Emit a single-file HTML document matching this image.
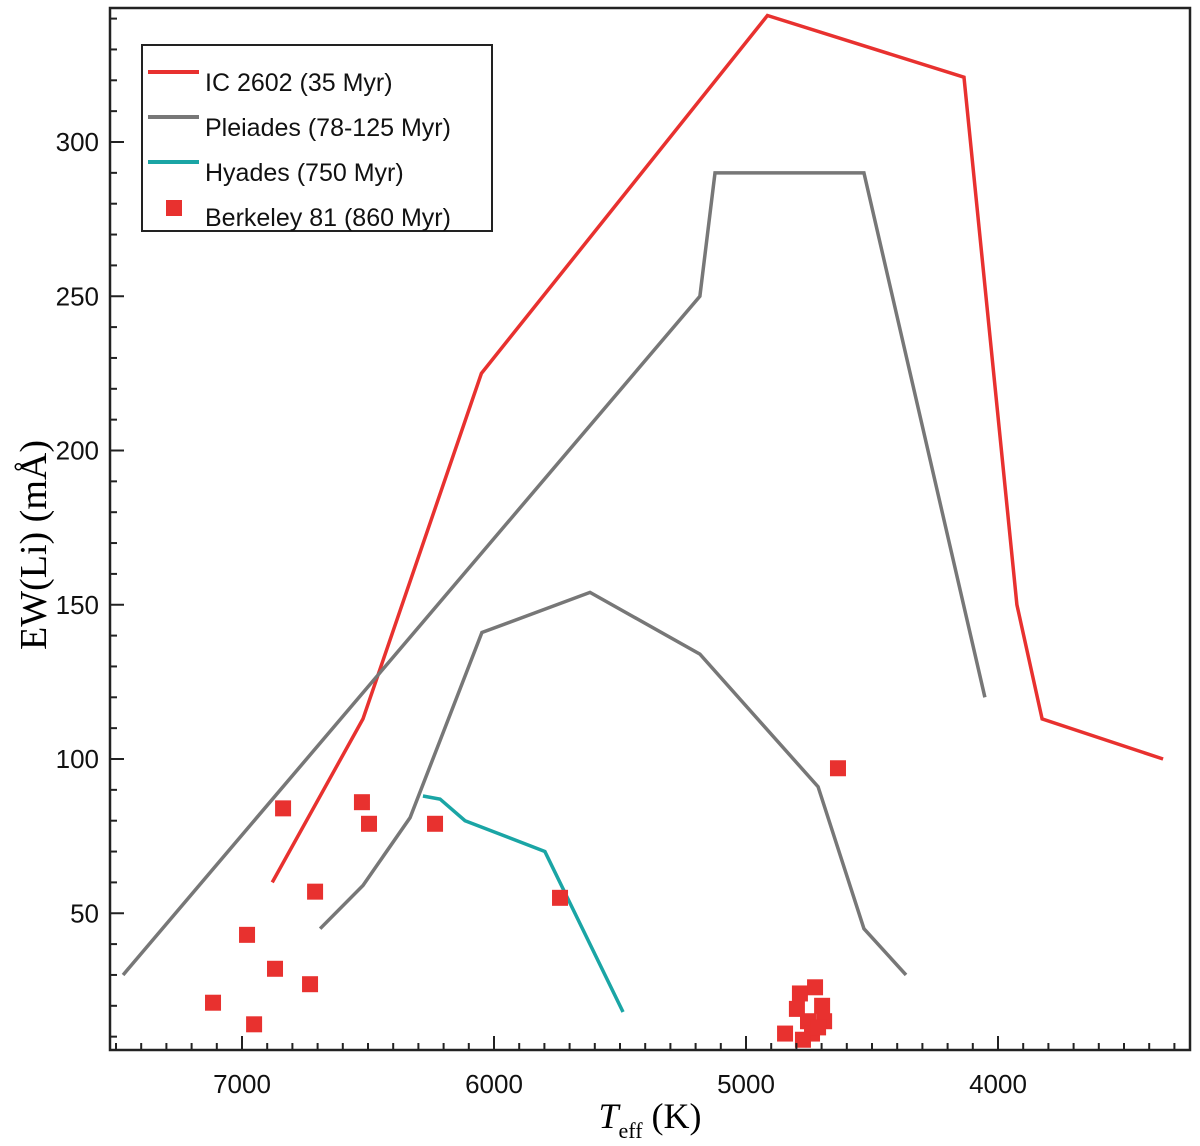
<!DOCTYPE html>
<html><head><meta charset="utf-8"><style>
html,body{margin:0;padding:0;background:#fff;}
svg{display:block;}
</style></head><body>
<svg id="chart" width="1200" height="1146" xmlns="http://www.w3.org/2000/svg" font-family="'Liberation Sans', sans-serif">
<rect x="0" y="0" width="1200" height="1146" fill="#fff"/>
<g id="plot"></g>
<g id="axes"></g>
<g>
<rect x="142" y="45" width="350" height="186" fill="#fff" stroke="#222" stroke-width="2"/>
<line x1="148" y1="72" x2="199" y2="72" stroke="#e8312f" stroke-width="4"/>
<text x="205" y="91" font-size="25" fill="#111">IC 2602 (35 Myr)</text>
<line x1="148" y1="117" x2="199" y2="117" stroke="#777" stroke-width="4"/>
<text x="205" y="136" font-size="25" fill="#111">Pleiades (78-125 Myr)</text>
<line x1="148" y1="162" x2="199" y2="162" stroke="#1aa5a5" stroke-width="4"/>
<text x="205" y="181" font-size="25" fill="#111">Hyades (750 Myr)</text>
<rect x="166" y="200" width="16" height="16" fill="#e8312f"/>
<text x="205" y="226" font-size="25" fill="#111">Berkeley 81 (860 Myr)</text>
</g>
<text x="650" y="1128" font-family="'Liberation Serif', serif" font-size="36" text-anchor="middle"><tspan font-style="italic">T</tspan><tspan font-size="22" dy="10">eff</tspan><tspan dy="-10"> (K)</tspan></text>
<text transform="translate(46,545) rotate(-90)" font-family="'Liberation Serif', serif" font-size="38" text-anchor="middle">EW(Li) (mÅ)</text>
</svg>
<script>
const ic2602T=[6880,6520,6050,4915,4135,3925,3825,3345];
const ic2602EW=[60,113,225,341,321,150,113,100];
const pleiadesUpperT=[7472,5183,5123,4532,4052];
const pleiadesUpperEW=[30,250,290,290,120];
const pleiadesLowerT=[6690,6520,6333,6214,6048,5619,5183,4714,4532,4365];
const pleiadesLowerEW=[45,59,81,106,141,154,134,91,45,30];
const hyadesT=[6282,6214,6115,5798,5488];
const hyadesEW=[88,87,80,70,18];
const berkT=[6837,6524,6496,6234,6710,6980,6869,6730,7115,6952,5738,4635,4845,4786,4798,4726,4698,4690,4754,4738,4774,4714];
const berkEW=[84,86,79,79,57,43,32,27,21,14,55,97,11,24,19,26,20,15,15,11,9,13];
const xTicks=[7000,6000,5000,4000];
const yTicks=[50,100,150,200,250,300];

const L=110,R=1190,T=8,B=1050;
const X=t=>242+(7000-t)*0.252;
const Y=v=>142+(300-v)*3.085;
const NS='http://www.w3.org/2000/svg';
const plot=document.getElementById('plot');
const axes=document.getElementById('axes');
function mk(tag,attrs,parent){const e=document.createElementNS(NS,tag);for(const k in attrs)e.setAttribute(k,attrs[k]);parent.appendChild(e);return e;}
function line(ts,vs,color,name){
  const p=mk('polyline',{points:ts.map((t,i)=>X(t)+','+Y(vs[i])).join(' '),fill:'none',stroke:color,'stroke-width':3.5,'stroke-linejoin':'miter'},plot);
  
  
}
line(ic2602T,ic2602EW,'#e8312f','ic2602-line');
line(pleiadesUpperT,pleiadesUpperEW,'#777','pleiades-upper-line');
line(pleiadesLowerT,pleiadesLowerEW,'#777','pleiades-lower-line');
line(hyadesT,hyadesEW,'#1aa5a5','hyades-line');
berkT.forEach((t,i)=>{
  const r=mk('rect',{x:X(t)-8,y:Y(berkEW[i])-8,width:16,height:16,fill:'#e8312f'},plot);
  
  
});
const f=mk('rect',{x:L,y:T,width:R-L,height:B-T,fill:'none',stroke:'#222','stroke-width':2.5},axes);


for(let t=7500;t>=3300;t-=100){
  const x=X(t); if(x<L||x>R)continue;
  const major=t%1000===0;
  mk('line',{x1:x,y1:B,x2:x,y2:B-(major?14:7),stroke:'#222','stroke-width':2},axes);
}
xTicks.forEach(t=>{
  const e=mk('text',{x:X(t),y:1093,'font-size':26,'text-anchor':'middle',fill:'#111'},axes);
  e.textContent=t;
  
  
});
for(let v=10;v<=340;v+=10){
  const y=Y(v); if(y<T||y>B)continue;
  const major=v%50===0;
  mk('line',{x1:L,y1:y,x2:L+(major?14:7),y2:y,stroke:'#222','stroke-width':2},axes);
}
yTicks.forEach(v=>{
  const e=mk('text',{x:99,y:Y(v)+9,'font-size':26,'text-anchor':'end',fill:'#111'},axes);
  e.textContent=v;
  
  
});
</script>
</body></html>
